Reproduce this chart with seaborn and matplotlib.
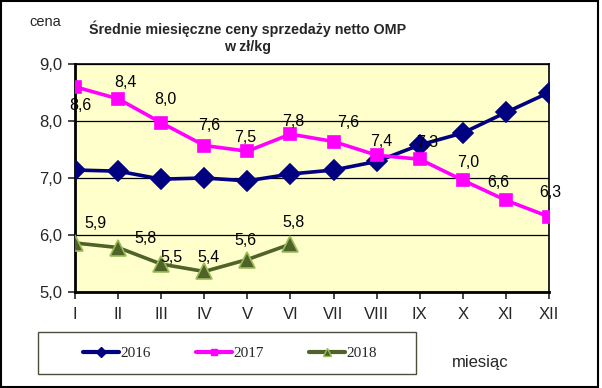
import matplotlib
matplotlib.use("Agg")
import matplotlib.pyplot as plt
import seaborn as sns
import pandas as pd
import numpy as np
from matplotlib.ticker import FuncFormatter, FixedLocator
from matplotlib.patches import Rectangle
from matplotlib.lines import Line2D

months = ["I", "II", "III", "IV", "V", "VI", "VII", "VIII", "IX", "X", "XI", "XII"]
v2016 = [7.14, 7.12, 6.98, 7.00, 6.95, 7.07, 7.14, 7.29, 7.58, 7.79, 8.15, 8.50]
v2017 = [8.60, 8.39, 7.97, 7.57, 7.47, 7.77, 7.64, 7.40, 7.33, 6.96, 6.61, 6.32]
v2018 = [5.86, 5.78, 5.49, 5.36, 5.57, 5.84]

# label offsets in pixels (dx, dy; dy positive = up)
off2017 = [(5, -19), (7, 16), (4, 23), (5, 20), (-2, 14), (3, 13),
           (15, 19), (5, 14), (7, 17), (5, 18), (-8, 18), (1, 24)]
off2018 = [(20, 19), (27, 9), (10, 7), (4, 14), (-2, 19), (3, 22)]

rows = []
for yr, vals in (("2016", v2016), ("2017", v2017), ("2018", v2018)):
    for i, v in enumerate(vals):
        rows.append({"month": i, "value": v, "year": yr})
df = pd.DataFrame(rows)

sns.set_theme(style="white")
plt.rcParams["font.family"] = ["Liberation Sans", "DejaVu Sans"]

fig = plt.figure(figsize=(6.02, 3.88), dpi=100)
ax = fig.add_axes([75 / 602, 1 - 292 / 388, (549 - 75) / 602, (292 - 64) / 388])
ax.set_facecolor("#FFFFCC")

palette = {"2016": "#000080", "2017": "#FF00FF", "2018": "#4F6228"}
markers = {"2016": "D", "2017": "s", "2018": "^"}
sizes = {"2016": 10, "2017": 8.5, "2018": 11.5}
mfc = {"2016": "#000080", "2017": "#FF00FF", "2018": "#4F6228"}
mec = {"2016": "#000080", "2017": "#FF00FF", "2018": "#9BBB59"}

for yr in ["2016", "2017", "2018"]:
    sub = df[df.year == yr]
    sns.lineplot(data=sub, x="month", y="value", ax=ax, color=palette[yr],
                 linewidth=2.6, marker=markers[yr], markersize=sizes[yr],
                 markerfacecolor=mfc[yr], markeredgecolor=mec[yr],
                 markeredgewidth=1.2, legend=False, zorder=3)

def fmt(v):
    return f"{v:.1f}".replace(".", ",")

for vals, offs in ((v2017, off2017), (v2018, off2018)):
    for i, (v, (dx, dy)) in enumerate(zip(vals, offs)):
        ax.annotate(fmt(v), (i, v), xytext=(dx * 0.72, dy * 0.72), textcoords="offset points",
                    ha="center", va="center", fontsize=11.5, color="black", zorder=5)

ax.set_xlim(0, 11)
ax.set_ylim(5, 9)
ax.xaxis.set_major_locator(FixedLocator(range(12)))
ax.set_xticklabels(months, fontsize=12)
ax.set_yticks([5, 6, 7, 8, 9])
ax.yaxis.set_major_formatter(FuncFormatter(lambda v, p: fmt(v)))
ax.tick_params(axis="y", labelsize=12, length=5, width=1.2, direction="out", left=True, pad=4)
ax.tick_params(axis="x", length=5, width=1.2, direction="out", bottom=True, pad=6)
ax.grid(axis="y", color="black", linewidth=0.9)
ax.set_axisbelow(True)
for s in ["top", "right"]:
    ax.spines[s].set_color("black")
    ax.spines[s].set_linewidth(1.2)
for s in ["left", "bottom"]:
    ax.spines[s].set_color("black")
    ax.spines[s].set_linewidth(2.0)
ax.set_xlabel("")
ax.set_ylabel("")

fig.text(248 / 602, 1 - 29 / 388, "Średnie miesięczne ceny sprzedaży netto OMP",
         ha="center", va="center", fontsize=10.3, fontweight="bold")
fig.text(248 / 602, 1 - 47 / 388, "w zł/kg", ha="center", va="center",
         fontsize=10.3, fontweight="bold")
fig.text(45 / 602, 1 - 22 / 388, "cena", ha="center", va="center", fontsize=10.5)
fig.text(480 / 602, 1 - 363 / 388, "miesiąc", ha="center", va="center", fontsize=12)

handles = [Line2D([], [], color=palette[y], linewidth=3, marker=markers[y],
                  markersize=sizes[y] * 0.55, markerfacecolor=mfc[y], markeredgecolor=mec[y])
           for y in ["2016", "2017", "2018"]]
leg = fig.legend(handles, ["2016", "2017", "2018"], loc="center",
                 bbox_to_anchor=(230 / 602, 1 - 353 / 388), ncol=3, frameon=False,
                 handlelength=2.35, handletextpad=0.15, columnspacing=2.9,
                 prop={"family": "Liberation Serif", "size": 11})

fig.patches.append(Rectangle((38 / 602, 1 - 374 / 388), (416 - 38) / 602, 42 / 388,
                             transform=fig.transFigure, fill=False,
                             edgecolor="#4D4D3A", linewidth=1.0))
fig.patches.append(Rectangle((0.002, 0.003), 0.992, 0.994, transform=fig.transFigure,
                             fill=False, edgecolor="black", linewidth=1.5))

fig.savefig("out.png", dpi=100)
